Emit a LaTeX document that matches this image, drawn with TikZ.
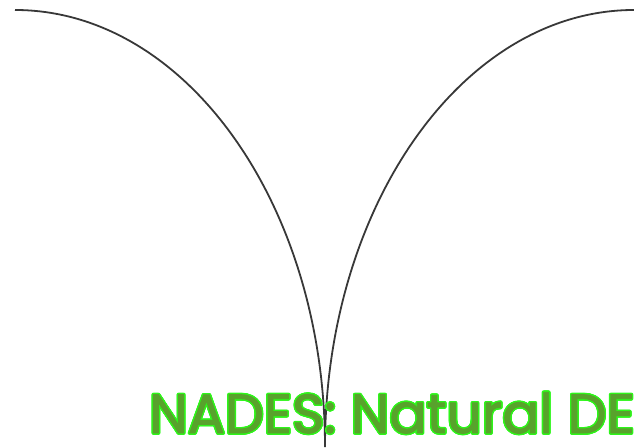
\documentclass[tikz,border=0pt]{standalone}
\usepackage{fontspec}
\newfontfamily\nadesfont{Poppins}[FakeBold=1.6]
\usepackage[copies]{contour}
\contourlength{1.4pt}
\usepackage{tikz}
\definecolor{nadesfill}{HTML}{58A22C}
\definecolor{nadesrim}{HTML}{2EF51A}
\definecolor{arcgray}{HTML}{383838}

\begin{document}
\begin{tikzpicture}[x=1pt,y=1pt,
    arcline/.style={arcgray,line width=1.8pt},
    nadestext/.style={font=\nadesfont\fontsize{55}{60}\selectfont,text=nadesfill,inner sep=0pt}]
  \useasboundingbox (0,0) rectangle (634,447);
  \clip (0,0) rectangle (634,447);
  % ---- the two arcs meeting at the bottom
  \coordinate (topl) at (15,437);
  \coordinate (topr) at (634,437);
  \coordinate (bot) at (325,0);
  \draw[arcline] (topl) arc[start angle=90,end angle=0,x radius=310,y radius=437];
  \draw[arcline] (topr) arc[start angle=90,end angle=180,x radius=309,y radius=437];
  % ---- title over the lines
  \node[nadestext,anchor=base west] (title) at (149,14)
    {\contour{nadesrim}{NADES: Natural DES}};
\end{tikzpicture}
\end{document}
